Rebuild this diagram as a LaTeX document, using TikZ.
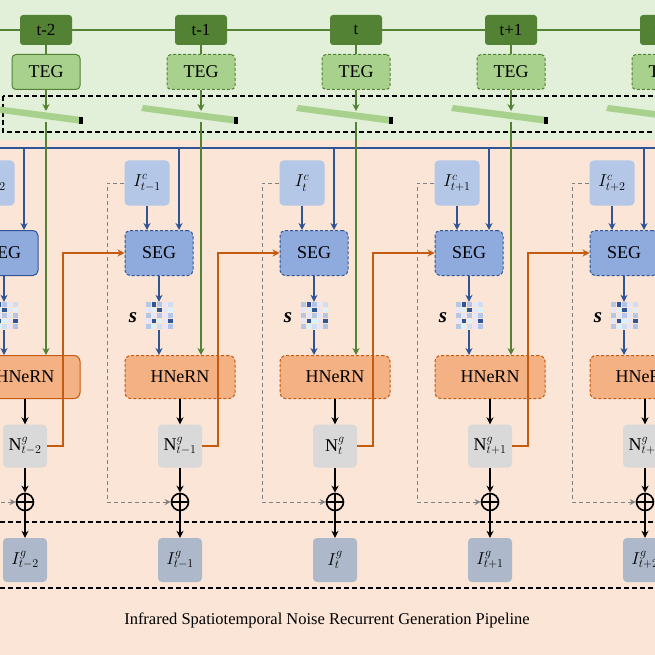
\documentclass[tikz,border=0pt]{standalone}
\usepackage{fontspec}
\setmainfont{Liberation Serif}
\usetikzlibrary{arrows.meta}
\definecolor{gdark}{HTML}{548235}
\definecolor{gteg}{HTML}{A9D18E}
\definecolor{gbg}{HTML}{E2F0D9}
\definecolor{sbg}{HTML}{FBE5D6}
\definecolor{bbox}{HTML}{8FAADC}
\definecolor{bdark}{HTML}{2F5597}
\definecolor{bic}{HTML}{B4C7E7}
\definecolor{obox}{HTML}{F4B183}
\definecolor{odark}{HTML}{C55A11}
\definecolor{gry}{HTML}{D9D9D9}
\definecolor{big}{HTML}{ADB9CA}
\tikzset{
 tbox/.style={fill=gdark,rounded corners=3pt,minimum width=52pt,minimum height=30pt,inner sep=0pt,font=\fontsize{17}{19}\selectfont},
 teg/.style={fill=gteg,draw=gdark,line width=1pt,rounded corners=4pt,minimum width=68pt,minimum height=35pt,inner sep=0pt,font=\fontsize{18}{20}\selectfont},
 seg/.style={fill=bbox,draw=bdark,line width=1pt,rounded corners=5pt,minimum width=68pt,minimum height=45pt,inner sep=0pt,font=\fontsize{18}{20}\selectfont},
 ic/.style={fill=bic,rounded corners=4pt,minimum width=45pt,minimum height=45pt,inner sep=0pt,font=\fontsize{18}{20}\selectfont},
 hn/.style={fill=obox,draw=odark,line width=1pt,rounded corners=6pt,minimum width=110pt,minimum height=43pt,inner sep=0pt,font=\fontsize{18}{20}\selectfont},
 nb/.style={fill=gry,rounded corners=4pt,minimum width=44pt,minimum height=43pt,inner sep=0pt,font=\fontsize{18}{20}\selectfont},
 ig/.style={fill=big,rounded corners=4pt,minimum width=44pt,minimum height=44pt,inner sep=0pt,font=\fontsize{18}{20}\selectfont},
 dsh/.style={dash pattern=on 3pt off 2pt},
 ga/.style={draw=gdark,line width=1.6pt,-{Stealth[length=7pt,width=7pt]}},
 ba/.style={draw=bdark,line width=1.6pt,-{Stealth[length=7pt,width=7pt]}},
 ka/.style={draw=black,line width=1.6pt,-{Stealth[length=7pt,width=7pt]}},
 oa/.style={draw=odark,line width=1.6pt,-{Stealth[length=7pt,width=7pt]}},
 gra/.style={draw=gray,line width=1pt,dash pattern=on 4pt off 3pt,-{Stealth[length=6pt,width=6pt]}},
}
\begin{document}
\begin{tikzpicture}[x=1pt,y=-1pt]
\useasboundingbox (0,0) rectangle (655,655);
\clip (0,0) rectangle (655,655);
\fill[sbg] (0,0) rectangle (655,655);
\fill[gbg] (0,0) rectangle (655,140);
\draw[gdark,line width=1.4pt] (0,30) -- (655,30);
\draw[bdark,line width=1.8pt] (0,148) -- (655,148);
\draw[dash pattern=on 5pt off 3pt,line width=1.2pt] (3,96) rectangle (700,132);
\draw[dash pattern=on 5pt off 3pt,line width=1.2pt] (0,522) -- (655,522);
\draw[dash pattern=on 5pt off 3pt,line width=1.2pt] (0,588) -- (655,588);
\foreach \k/\lab/\sub in {0/t-2/t-2,1/t-1/t-1,2/t/t,3/t+1/t+1,4/t+2/t+2}{
 \pgfmathsetmacro{\c}{46+155*\k}
 \ifnum\k=0 \def\bs{solid}\else\def\bs{dsh}\fi
 \node[tbox] (t\k) at (\c,30) {\lab};
 \node[teg,\bs] (teg\k) at (\c,72) {TEG};
 \draw[gdark,line width=1.4pt] (t\k) -- (teg\k);
 \fill[gteg] (\c-60,111) -- (\c-58,105) -- (\c+36,117) -- (\c+36,124) -- cycle;
 \fill[black] (\c+33,117) rectangle (\c+37,124);
 \coordinate (bar\k) at (\c,111);
 \draw[ga] (teg\k) -- (bar\k);
 \node[ic] (ic\k) at (\c-54,183) {$I^{c}_{\sub}$};
 \node[seg,\bs] (seg\k) at (\c-42,253) {SEG};
 \node[hn,\bs] (hn\k) at (\c-21,377) {HNeRN};
 \node[nb] (n\k) at (\c-21,446) {N$^{g}_{\sub}$};
 \node[circle,draw,line width=1.6pt,inner sep=0pt,minimum size=17pt] (op\k) at (\c-21,502) {};
 \draw[line width=1.6pt] (op\k.north) -- (op\k.south) (op\k.west) -- (op\k.east);
 \node[ig] (ig\k) at (\c-21,560) {$I^{g}_{\sub}$};
 \coordinate (gv\k) at (\c,122);
 \coordinate (bt\k) at (\c-22,148);
 \coordinate (ix\k) at (\c-54,0);
 \coordinate (mx\k) at (\c-42,0);
 \draw[ga] (gv\k) -- (gv\k |- hn\k.north);
 \draw[ba] (bt\k) -- (bt\k |- seg\k.north);
 \draw[ba] (ic\k) -- (ix\k |- seg\k.north);
 \node[inner sep=0pt,minimum width=27pt,minimum height=28pt] (m\k) at (\c-42,316) {};
 \foreach \i in {0,...,4}{\foreach \j in {0,...,4}{
  \pgfmathtruncatemacro{\v}{mod(\i*7+\j*3+\i*\j,6)}
  \ifcase\v \def\cc{bic}\or\def\cc{bdark}\or\def\cc{bbox!70}\or\def\cc{blue!10}\or\def\cc{bic!60}\or\def\cc{cyan!15}\fi
  \fill[\cc] (\c-55+\i*5.6,302+\j*5.6) rectangle ++(4.6,4.6);}}
 \draw[ba] (seg\k) -- (m\k);
 \draw[ba] (m\k) -- (mx\k |- hn\k.north);
 \node[font=\fontsize{21}{22}\selectfont\bfseries\itshape] (s\k) at (\c-68,318) {s};
 \draw[ka] (hn\k) -- (n\k);
 \draw[ka] (n\k) -- (op\k);
 \draw[ka] (op\k) -- (ig\k);
 \draw[gra] (ic\k.west) -- ++(-17,0) |- (op\k.west);
}
\foreach \k/\m in {0/1,1/2,2/3,3/4}{
 \draw[oa] (n\k.east) -- ++(16,0) |- (seg\m.west);
}
\node[font=\fontsize{16.5}{18}\selectfont] (cap) at (327,620) {Infrared Spatiotemporal Noise Recurrent Generation Pipeline};
\end{tikzpicture}
\end{document}
